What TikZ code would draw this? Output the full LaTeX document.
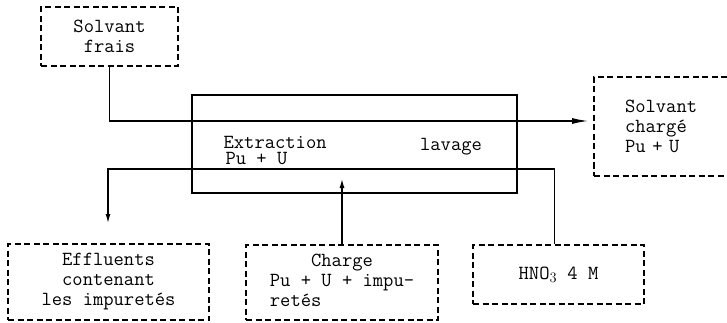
\documentclass[tikz,border=0pt]{standalone}
\usepackage{fontspec}
\usetikzlibrary{arrows.meta}

\begin{document}
\begin{tikzpicture}[x=1pt,y=-1pt,line width=1.2pt,
  every node/.style={font=\ttfamily\fontsize{20}{20}\selectfont,inner sep=1pt},
  dbox/.style={draw,dash pattern=on 6pt off 3.5pt,rectangle}]
  \useasboundingbox (0,0) rectangle (727,323);
  % boites
  \node[dbox,minimum width=137pt,minimum height=59pt,align=center] (frais) at (109.5,36.5) {Solvant\\frais};
  \node[draw,line width=1.5pt,minimum width=325pt,minimum height=98pt] (extr) at (354.5,144) {};
  \node[anchor=west,inner sep=0pt,align=left] (extrtxt) at (223,151) {Extraction\\[-4pt]\hspace*{2pt}Pu + U};
  \node (lavtxt) at (451,147) {lavage};
  \node[dbox,minimum width=150pt,minimum height=99pt,text width=88pt,align=left] (solvch) at (669,126.5) {Solvant\\chargé\\Pu + U};
  \node[dbox,minimum width=201pt,minimum height=76pt,align=center] (effl) at (108.5,282) {Effluents\\contenant\\les impuretés};
  \node[dbox,minimum width=192pt,minimum height=75pt] (charge) at (342,282.5)
    {\begin{tabular}{@{}l@{}}\multicolumn{1}{@{}c@{}}{Charge}\\Pu + U + impu-\\retés\end{tabular}};
  \node[dbox,minimum width=171pt,minimum height=59pt] (hno) at (558.5,274.5) {HNO$_3$ 4 M};
  % flux
  \coordinate (sfin) at (588,121);
  \coordinate (coin) at (108,169);
  \coordinate (efftip) at (108,223);
  \coordinate (chin) at (342,179);
  \draw[-{Latex[length=16pt,width=6pt]}] (frais.south) |- (sfin);
  \draw[-{Latex[length=9pt,width=5pt]}] ([xshift=-4pt]hno.north) |- (coin) -- (efftip);
  \draw[-{Latex[length=9pt,width=5pt]}] (charge.north) -- (chin);
\end{tikzpicture}
\end{document}
